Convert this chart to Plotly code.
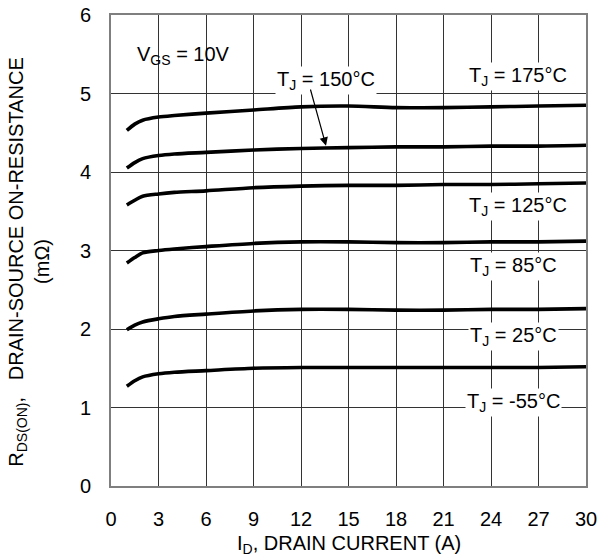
import plotly.graph_objects as go

# Drain current (A)
drain_current = [1, 1.5, 2, 3, 4, 6, 9, 12, 15, 18, 21, 24, 27, 30]

# R_DS(ON) in mOhm per junction temperature
r_175 = [4.53, 4.61, 4.66, 4.70, 4.72, 4.75, 4.79, 4.83, 4.84, 4.82, 4.82, 4.83, 4.84, 4.85]
r_150 = [4.05, 4.12, 4.17, 4.21, 4.23, 4.25, 4.28, 4.30, 4.31, 4.32, 4.32, 4.33, 4.33, 4.34]
r_125 = [3.58, 3.64, 3.69, 3.72, 3.74, 3.76, 3.80, 3.82, 3.83, 3.83, 3.84, 3.84, 3.85, 3.86]
r_85 = [2.84, 2.91, 2.97, 3.00, 3.02, 3.05, 3.09, 3.11, 3.11, 3.10, 3.10, 3.11, 3.11, 3.12]
r_25 = [1.99, 2.05, 2.09, 2.13, 2.16, 2.19, 2.23, 2.25, 2.25, 2.24, 2.24, 2.25, 2.25, 2.26]
r_m55 = [1.27, 1.34, 1.39, 1.43, 1.45, 1.47, 1.50, 1.51, 1.51, 1.51, 1.51, 1.51, 1.51, 1.52]

series = [("175", r_175), ("150", r_150), ("125", r_125),
          ("85", r_85), ("25", r_25), ("-55", r_m55)]

x_ticks = [0, 3, 6, 9, 12, 15, 18, 21, 24, 27, 30]
y_ticks = [0, 1, 2, 3, 4, 5, 6]

FONT = "Liberation Sans, Arial, sans-serif"
FS = 20

fig = go.Figure()
for name, vals in series:
    fig.add_trace(go.Scatter(x=drain_current, y=vals, mode="lines",
                             line=dict(color="black", width=3.6, shape="spline", smoothing=0.8),
                             name=name, showlegend=False, hoverinfo="skip"))

def lab(text, x, y, bg=True):
    fig.add_annotation(x=x, y=y, xref="x", yref="y", text=text, showarrow=False,
                       font=dict(family=FONT, size=FS, color="black"),
                       bgcolor="white" if bg else None, borderpad=1,
                       xanchor="center", yanchor="middle")

lab("V<sub>GS</sub> = 10V", 4.6, 5.49, bg=False)
lab("T<sub>J</sub> = 150°C", 13.6, 5.17)
lab("T<sub>J</sub> = 175°C", 25.7, 5.22)
lab("T<sub>J</sub> = 125°C", 25.7, 3.56)
lab("T<sub>J</sub> = 85°C", 25.4, 2.80)
lab("T<sub>J</sub> = 25°C", 25.4, 1.90)
lab("T<sub>J</sub> = -55°C", 25.4, 1.07)

fig.add_annotation(x=13.58, y=4.335, ax=12.57, ay=5.07, xref="x", yref="y",
                   axref="x", ayref="y", text="", showarrow=True,
                   arrowhead=2, arrowsize=1.4, arrowwidth=1.2, arrowcolor="black")

# Axis titles
fig.add_annotation(x=-0.196, y=0.476, xref="paper", yref="paper",
                   text="R<sub>DS(ON)</sub>,&nbsp;&nbsp;&nbsp;DRAIN-SOURCE ON-RESISTANCE",
                   textangle=-90, showarrow=False,
                   font=dict(family=FONT, size=FS, color="black"),
                   xanchor="center", yanchor="middle")
fig.add_annotation(x=-0.145, y=0.476, xref="paper", yref="paper",
                   text="(mΩ)", textangle=-90, showarrow=False,
                   font=dict(family=FONT, size=FS, color="black"),
                   xanchor="center", yanchor="middle")
fig.add_annotation(x=0.5, y=-0.125, xref="paper", yref="paper",
                   text="I<sub>D</sub>, DRAIN CURRENT (A)", showarrow=False,
                   font=dict(family=FONT, size=FS, color="black"),
                   xanchor="center", yanchor="middle")

fig.update_xaxes(range=[0, 30], tickvals=x_ticks, ticktext=[str(v) for v in x_ticks],
                 showgrid=True, gridcolor="#333333", gridwidth=1,
                 showline=True, linecolor="#7f7f7f", linewidth=2, mirror=True,
                 ticks="", ticklabelstandoff=14, zeroline=False, automargin=False,
                 tickfont=dict(family=FONT, size=FS, color="black"))
fig.update_yaxes(range=[0, 6], tickvals=y_ticks, ticktext=[str(v) for v in y_ticks],
                 showgrid=True, gridcolor="#333333", gridwidth=1,
                 showline=True, linecolor="#7f7f7f", linewidth=2, mirror=True,
                 ticks="", ticklabelstandoff=14, zeroline=False, automargin=False,
                 tickfont=dict(family=FONT, size=FS, color="black"))

fig.update_layout(width=598, height=556,
                  margin=dict(l=111, r=12, t=15, b=70, autoexpand=False),
                  plot_bgcolor="white", paper_bgcolor="white",
                  showlegend=False)

fig.write_html("out.html", config={"displayModeBar": False},
               post_script="document.body.style.margin='0';document.body.style.overflow='hidden';")
